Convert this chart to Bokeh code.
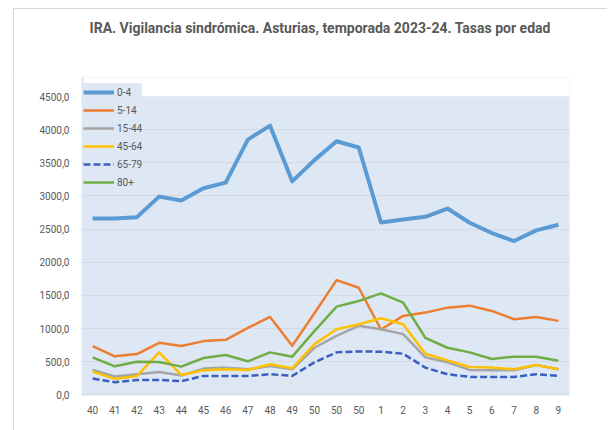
from bokeh.plotting import figure
from bokeh.layouts import column
from bokeh.models import FixedTicker, Legend, LegendItem, BoxAnnotation, Range1d, Div
from bokeh.embed import file_html
from bokeh.resources import INLINE

title_text = "IRA. Vigilancia sindrómica. Asturias, temporada 2023-24. Tasas por edad"
week_labels = ["40", "41", "42", "43", "44", "45", "46", "47", "48", "49", "50", "50", "50",
               "1", "2", "3", "4", "5", "6", "7", "8", "9"]
y_ticks = [0, 500, 1000, 1500, 2000, 2500, 3000, 3500, 4000, 4500]
y_tick_labels = ["0,0", "500,0", "1000,0", "1500,0", "2000,0", "2500,0", "3000,0", "3500,0", "4000,0", "4500,0"]

age_groups = ["0-4", "5-14", "15-44", "45-64", "65-79", "80+"]
r_0_4 = [2660, 2660, 2680, 2990, 2930, 3115, 3200, 3850, 4060, 3220, 3540, 3825, 3730,
         2600, 2645, 2685, 2810, 2595, 2440, 2320, 2480, 2565]
r_5_14 = [735, 580, 615, 785, 735, 810, 830, 1010, 1175, 740, 1230, 1730, 1615,
          985, 1190, 1240, 1315, 1345, 1265, 1140, 1175, 1115]
r_15_44 = [375, 275, 310, 345, 290, 395, 410, 385, 435, 385, 710, 890, 1040,
           990, 915, 565, 490, 375, 370, 370, 450, 385]
r_45_64 = [350, 240, 285, 640, 300, 370, 385, 375, 460, 400, 765, 990, 1065,
           1155, 1065, 620, 520, 420, 410, 385, 450, 385]
r_65_79 = [245, 190, 225, 225, 205, 285, 285, 285, 310, 285, 490, 640, 655,
           650, 620, 410, 310, 270, 270, 270, 310, 285]
r_80 = [565, 430, 500, 495, 425, 555, 600, 505, 640, 575, 960, 1330, 1415,
        1530, 1390, 860, 710, 640, 540, 575, 575, 515]

series = [r_0_4, r_5_14, r_15_44, r_45_64, r_65_79, r_80]
colors = ["#5b9bd5", "#ed7d31", "#a5a5a5", "#ffc000", "#3a5fc0", "#70ad47"]
widths = [4, 2.5, 2.5, 2.5, 2.5, 2.5]
dashes = ["solid", "solid", "solid", "solid", "7 3", "solid"]

x = list(range(len(week_labels)))
BG = "#dde8f4"
TXT = "#595959"
FONT = "Roboto"
EDGE = "#d9d9d9"

Y_PX = 298.3 / 4500                    # px per unit
def dy(py):
    return 4500 + (96 - py) / Y_PX

title_div = Div(text=title_text, width=594, height=68, margin=(9, 0, 0, 14),
                styles={"box-shadow": f"-1px -1px 0 0 {EDGE}",
                        "box-sizing": "border-box",
                        "text-align": "center",
                        "font-family": FONT,
                        "font-weight": "bold",
                        "font-size": "14px",
                        "line-height": "17px",
                        "color": TXT,
                        "padding-top": "11px",
                        "padding-left": "18px"})

p = figure(width=594, height=353, output_backend="svg", toolbar_location=None,
           x_range=Range1d(-0.5, len(week_labels) - 0.5),
           y_range=Range1d(dy(395), dy(77)),
           min_border_left=67, min_border_right=39, min_border_top=0, min_border_bottom=35)
p.margin = (0, 0, 0, 14)
p.styles = {"box-shadow": f"-1px 0 0 0 {EDGE}"}

p.background_fill_color = BG
p.border_fill_color = "white"
p.outline_line_color = None

# white strip above the 4500 line (plot area ends there, legend sits above)
p.add_layout(BoxAnnotation(left=-0.41, bottom=4500, fill_color="white", fill_alpha=1,
                           line_color=None, level="underlay"))

p.xaxis.ticker = FixedTicker(ticks=x)
p.xaxis.major_label_overrides = {i: lab for i, lab in enumerate(week_labels)}
p.yaxis.ticker = FixedTicker(ticks=y_ticks)
p.yaxis.major_label_overrides = {t: lab for t, lab in zip(y_ticks, y_tick_labels)}
for ax in (p.xaxis, p.yaxis):
    ax.axis_line_color = None
    ax.major_tick_line_color = None
    ax.minor_tick_line_color = None
    ax.major_label_text_font = FONT
    ax.major_label_text_font_size = "10px"
    ax.major_label_text_color = TXT
p.xaxis.major_label_standoff = 4
p.yaxis.major_label_standoff = 6

p.xgrid.grid_line_color = None
p.ygrid.grid_line_color = "#d3dae3"
p.ygrid.grid_line_width = 1

items = []
for name, vals, c, w, d in zip(age_groups, series, colors, widths, dashes):
    r = p.line(x, vals, line_color=c, line_width=w, line_dash=d, line_join="round")
    items.append(LegendItem(label=name, renderers=[r]))

legend = Legend(items=items, location=(2, 318 - 114), orientation="vertical")
legend.background_fill_color = BG
legend.background_fill_alpha = 1
legend.border_line_color = None
legend.padding = 4
legend.margin = 0
legend.spacing = 0
legend.glyph_width = 31
legend.glyph_height = 18
legend.label_height = 18
legend.label_standoff = 3
legend.label_text_font = FONT
legend.label_text_font_size = "10px"
legend.label_text_color = TXT
p.add_layout(legend, "center")

layout = column(title_div, p, spacing=0)
open("out.html", "w").write(file_html(layout, INLINE))
